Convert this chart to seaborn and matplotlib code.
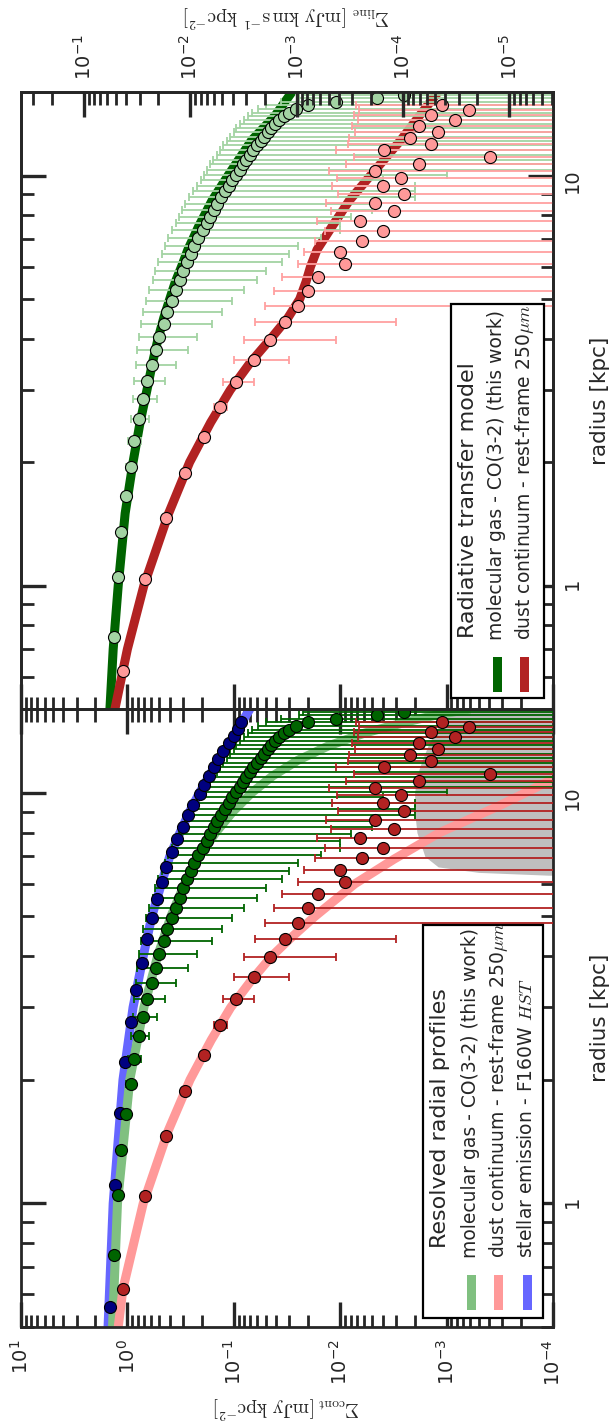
import matplotlib
matplotlib.use("Agg")
import matplotlib.pyplot as plt
from matplotlib import ticker
from matplotlib.patches import Rectangle
import seaborn as sns

# ---------------- data (radius in kpc, surface brightness in mJy kpc^-2) -------------
# molecular gas CO(3-2) profile
co_radius = [0.75, 1.05, 1.35, 1.65, 1.95, 2.25, 2.55, 2.85, 3.15, 3.45,
             3.75, 4.05, 4.35, 4.65, 4.95, 5.25, 5.55, 5.85, 6.15, 6.45,
             6.75, 7.05, 7.35, 7.65, 7.95, 8.25, 8.55, 8.85, 9.15, 9.45,
             9.75, 10.05, 10.35, 10.65, 10.95, 11.25, 11.55, 11.85, 12.15, 12.45,
             12.75, 13.05, 13.35, 13.65, 13.95, 14.25, 14.55, 14.85, 15.15, 15.45,
             15.75]
co_flux = [1.34, 1.22, 1.14, 1.03, 0.93, 0.86, 0.78, 0.71, 0.65, 0.59,
           0.54, 0.50, 0.45, 0.42, 0.385, 0.35, 0.32, 0.30, 0.275, 0.25,
           0.235, 0.215, 0.195, 0.18, 0.168, 0.155, 0.145, 0.132, 0.122, 0.112,
           0.104, 0.096, 0.088, 0.082, 0.076, 0.070, 0.066, 0.061, 0.056, 0.052,
           0.048, 0.045, 0.041, 0.038, 0.034, 0.030, 0.026, 0.020, 0.011, 0.0045,
           0.0025]
co_err = [0.03, 0.04, 0.05, 0.07, 0.09, 0.12, 0.15, 0.18, 0.21, 0.24,
          0.27, 0.28, 0.29, 0.29, 0.28, 0.27, 0.26, 0.25, 0.24, 0.22,
          0.21, 0.20, 0.185, 0.17, 0.16, 0.15, 0.14, 0.13, 0.12, 0.11,
          0.10, 0.095, 0.09, 0.085, 0.08, 0.075, 0.07, 0.065, 0.06, 0.056,
          0.052, 0.05, 0.046, 0.043, 0.04, 0.037, 0.033, 0.03, 0.025, 0.02,
          0.02]

# dust continuum (rest-frame 250 micron) profile
dust_radius = [0.62, 1.04, 1.46, 1.88, 2.30, 2.72, 3.14, 3.56, 3.98, 4.40,
               4.82, 5.24, 5.66, 6.08, 6.50, 6.92, 7.34, 7.76, 8.18, 8.60,
               9.02, 9.44, 9.86, 10.28, 10.70, 11.12, 11.54, 11.96, 12.38, 12.80,
               13.22, 13.64, 14.06, 14.48, 14.90]
dust_flux = [1.10, 0.68, 0.43, 0.29, 0.19, 0.135, 0.095, 0.065, 0.046, 0.033,
             0.025, 0.020, 0.016, 0.0090, 0.0101, 0.0063, 0.0040, 0.0065, 0.0031, 0.0047,
             0.0025, 0.0040, 0.0027, 0.0047, 0.0018, 0.00039, 0.0039, 0.0014, 0.0022, 0.0012,
             0.0018, 0.00083, 0.0014, 0.00062, 0.0011]
dust_err = [0.02, 0.015, 0.012, 0.012, 0.015, 0.02, 0.03, 0.035, 0.035, 0.03,
            0.026, 0.022, 0.019, 0.016, 0.012, 0.011, 0.010, 0.010, 0.009, 0.009,
            0.008, 0.008, 0.008, 0.008, 0.007, 0.007, 0.007, 0.007, 0.006, 0.006,
            0.006, 0.006, 0.006, 0.006, 0.006]

# stellar emission (F160W HST) profile
star_radius = [0.56, 1.11, 1.66, 2.21, 2.76, 3.31, 3.86, 4.41, 4.96, 5.51,
               6.06, 6.61, 7.16, 7.71, 8.26, 8.81, 9.36, 9.91, 10.46, 11.01,
               11.56, 12.11, 12.66, 13.21, 13.76, 14.31, 14.86]
star_flux = [1.45, 1.32, 1.18, 1.05, 0.93, 0.83, 0.73, 0.66, 0.59, 0.53,
             0.47, 0.43, 0.38, 0.34, 0.30, 0.27, 0.24, 0.21, 0.19, 0.17,
             0.155, 0.14, 0.125, 0.11, 0.10, 0.092, 0.085]

# fitted profiles
fit_radius = [0.5, 1.0, 2.0, 3.0, 4.0, 5.0, 6.0, 7.0, 8.0, 9.0, 10.0,
              11.0, 12.0, 13.0, 14.0, 15.0, 15.5, 16.0]
fit_co = [1.38, 1.24, 0.95, 0.70, 0.52, 0.39, 0.29, 0.21, 0.148, 0.102, 0.068,
          0.043, 0.025, 0.013, 0.0058, 0.0021, 0.0012, 0.0006]
fit_star = [1.52, 1.36, 1.10, 0.885, 0.71, 0.59, 0.48, 0.40, 0.32, 0.26, 0.21,
            0.17, 0.14, 0.114, 0.095, 0.082, 0.076, 0.0705]
fit_dust_radius = [0.5, 0.62, 1.0, 1.5, 2.0, 2.5, 3.0, 3.5, 4.0, 4.4, 5.0,
                   6.0, 6.9, 8.0, 9.3, 10.8]
fit_dust = [1.22, 1.10, 0.71, 0.415, 0.258, 0.163, 0.107, 0.068, 0.044, 0.030, 0.0173,
            0.0073, 0.0031, 0.00116, 0.00032, 0.0001]

# radiative transfer model
rt_radius = [0.5, 0.7, 1.0, 1.5, 2.0, 2.5, 3.0, 3.5, 4.0, 4.5, 5.0, 5.5,
             6.0, 6.6, 7.5, 8.7, 10.0, 12.2, 14.0, 16.0]
rt_co = [1.46, 1.36, 1.22, 1.05, 0.885, 0.76, 0.655, 0.58, 0.515, 0.455, 0.40, 0.355,
         0.31, 0.27, 0.215, 0.16, 0.1135, 0.068, 0.041, 0.0284]
rt_dust = [1.31, 1.0, 0.70, 0.41, 0.26, 0.165, 0.108, 0.070, 0.045, 0.031, 0.024, 0.021,
           0.019, 0.0165, 0.012, 0.0082, 0.0052, 0.0027, 0.0018, 0.0012]

# noise region of the dust map
noise_radius = [6.3, 6.4, 6.6, 7.0, 8.0, 9.0, 10.0, 11.0, 12.0, 13.0, 14.0, 15.0, 16.0]
noise_level = [1.1e-4, 5e-4, 1.2e-3, 1.6e-3, 1.9e-3, 2.0e-3, 2.0e-3, 1.9e-3, 1.7e-3,
               1.5e-3, 1.3e-3, 1.1e-3, 1.0e-3]

LINE_PER_CONT = 0.039          # Sigma_line / Sigma_cont axis scaling
cont_lim = (10.0, 1e-4)
radius_lim = (0.5, 16.0)

# ---------------- style ----------------
sns.set_theme(style="ticks")
plt.rcParams["font.family"] = ["DejaVu Sans"]
plt.rcParams["mathtext.fontset"] = "dejavusans"
plt.rcParams["axes.linewidth"] = 2.0
plt.rcParams["axes.unicode_minus"] = False

W, H = 611, 1422
fig = plt.figure(figsize=(W / 100, H / 100), dpi=100)


def fx(px):
    return px / W


def fy(py):
    return 1 - py / H


ax_b = fig.add_axes([fx(21), fy(1327), 532 / W, (1327 - 709) / H])
ax_t = fig.add_axes([fx(21), fy(709), 532 / W, (709 - 92) / H])


def style_axes(ax):
    ax.set_xscale("log")
    ax.set_yscale("log")
    ax.set_xlim(*cont_lim)
    ax.set_ylim(*radius_lim)
    ax.xaxis.set_major_locator(ticker.LogLocator(base=10, numticks=20))
    ax.xaxis.set_minor_locator(ticker.LogLocator(base=10, subs=range(2, 10), numticks=40))
    ax.xaxis.set_minor_formatter(ticker.NullFormatter())
    ax.yaxis.set_major_locator(ticker.FixedLocator([1, 10]))
    ax.yaxis.set_major_formatter(ticker.StrMethodFormatter("{x:g}"))
    ax.yaxis.set_minor_locator(ticker.LogLocator(base=10, subs=range(2, 10), numticks=40))
    ax.yaxis.set_minor_formatter(ticker.NullFormatter())
    ax.tick_params(which="major", direction="in", length=18, width=2.4, labelsize=14)
    ax.tick_params(which="minor", direction="in", length=9, width=2.0)
    ax.tick_params(axis="y", which="both", left=True, right=True,
                   labelleft=False, labelright=True, labelrotation=90, pad=7)
    ax.set_ylabel("radius [kpc]", rotation=90, fontsize=15.5, labelpad=6)
    ax.yaxis.set_label_position("right")
    ax.grid(False)


style_axes(ax_b)
style_axes(ax_t)

# bottom panel: Sigma_cont axis labelled at the bottom
ax_b.tick_params(axis="x", which="both", top=True, bottom=True,
                 labeltop=False, labelbottom=True, labelrotation=90, pad=9)
ax_b.set_xlabel(r"$\Sigma_{\rm cont}\,[\rm mJy\ kpc^{-2}]$", rotation=180,
                fontsize=14, math_fontfamily="cm", labelpad=6)

# top panel: Sigma_cont ticks below, Sigma_line axis on top
ax_t.tick_params(axis="x", which="both", top=False, bottom=True,
                 labeltop=False, labelbottom=False)
ax_t2 = ax_t.twiny()
ax_t2.set_xscale("log")
ax_t2.set_xlim(cont_lim[0] * LINE_PER_CONT, cont_lim[1] * LINE_PER_CONT)
ax_t2.xaxis.set_major_locator(ticker.LogLocator(base=10, numticks=20))
ax_t2.xaxis.set_minor_locator(ticker.LogLocator(base=10, subs=range(2, 10), numticks=40))
ax_t2.xaxis.set_minor_formatter(ticker.NullFormatter())
ax_t2.tick_params(which="major", direction="in", length=18, width=2.4, labelsize=14)
ax_t2.tick_params(which="minor", direction="in", length=9, width=2.0)
ax_t2.tick_params(axis="x", which="both", top=True, bottom=False,
                  labeltop=True, labelbottom=False, labelrotation=90, pad=9)
ax_t2.set_xlabel(r"$\Sigma_{\rm line}\ [\rm mJy\ km\,s^{-1}\ kpc^{-2}]$", rotation=180,
                 fontsize=14, math_fontfamily="cm", labelpad=8)
ax_t2.xaxis.set_label_position("top")
ax_t2.tick_params(axis="y", which="both", left=False, right=False,
                  labelleft=False, labelright=False)
ax_t2.grid(False)

# ---------------- bottom panel: resolved radial profiles ----------------
ax_b.fill_betweenx(noise_radius, noise_level, [1e-5] * len(noise_level),
                   color="#bfbfbf", lw=0, zorder=1)
lw_fit = 6.5
sns.lineplot(x=fit_star, y=fit_radius, orient="y", ax=ax_b, color="#6666ff",
             lw=lw_fit, zorder=2, solid_capstyle="butt")
sns.lineplot(x=fit_co, y=fit_radius, orient="y", ax=ax_b, color="#80c080",
             lw=lw_fit, zorder=2, solid_capstyle="butt")
sns.lineplot(x=fit_dust, y=fit_dust_radius, orient="y", ax=ax_b, color="#ff9999",
             lw=lw_fit, zorder=2, solid_capstyle="butt")

ax_b.errorbar(co_flux, co_radius, xerr=co_err, fmt="none", ecolor="#006400",
              elinewidth=1.3, capsize=3, capthick=1.3, zorder=3)
ax_b.errorbar(dust_flux, dust_radius, xerr=dust_err, fmt="none", ecolor="#b22222",
              elinewidth=1.3, capsize=3, capthick=1.3, zorder=3)
pt_kw = dict(s=75, edgecolor="black", linewidth=0.8, zorder=4, legend=False)
sns.scatterplot(x=star_flux, y=star_radius, ax=ax_b, color="#000080", **pt_kw)
sns.scatterplot(x=co_flux, y=co_radius, ax=ax_b, color="#006400", **pt_kw)
sns.scatterplot(x=dust_flux, y=dust_radius, ax=ax_b, color="#b22222", **pt_kw)

# ---------------- top panel: radiative transfer model ----------------
sns.lineplot(x=rt_co, y=rt_radius, orient="y", ax=ax_t, color="#006400",
             lw=lw_fit, zorder=2, solid_capstyle="butt")
sns.lineplot(x=rt_dust, y=rt_radius, orient="y", ax=ax_t, color="#b22222",
             lw=lw_fit, zorder=2, solid_capstyle="butt")
ax_t.errorbar(co_flux, co_radius, xerr=co_err, fmt="none", ecolor="#a3d3a3",
              elinewidth=1.3, capsize=3, capthick=1.3, zorder=3)
ax_t.errorbar(dust_flux, dust_radius, xerr=dust_err, fmt="none", ecolor="#ffa0a0",
              elinewidth=1.3, capsize=3, capthick=1.3, zorder=3)
sns.scatterplot(x=co_flux, y=co_radius, ax=ax_t, color="#a3d3a3", **pt_kw)
sns.scatterplot(x=dust_flux, y=dust_radius, ax=ax_t, color="#ff9999", **pt_kw)

for ax in (ax_b, ax_t):
    ax.set_xlim(*cont_lim)
    ax.set_ylim(*radius_lim)
ax_t2.set_xlim(cont_lim[0] * LINE_PER_CONT, cont_lim[1] * LINE_PER_CONT)


# ---------------- legends (drawn rotated, reading upwards) ----------------
def rotated_legend(box, title, title_x, title_y, entries, text_y, handle_y):
    x0, x1, y0, y1 = box
    fig.add_artist(Rectangle((fx(x0), fy(y1)), fx(x1) - fx(x0), fy(y0) - fy(y1),
                             transform=fig.transFigure, facecolor="white",
                             edgecolor="black", lw=1.6, zorder=10))
    fig.text(fx(title_x), fy(title_y), title, rotation=90, ha="center", va="bottom",
             fontsize=16, zorder=11)
    for label, color, x in entries:
        fig.text(fx(x), fy(text_y), label, rotation=90, ha="center", va="bottom",
                 fontsize=13.5, math_fontfamily="cm", zorder=11)
        fig.add_artist(Rectangle((fx(x - 4.5), fy(handle_y[1])), 9 / W,
                                 (handle_y[1] - handle_y[0]) / H,
                                 transform=fig.transFigure, facecolor=color,
                                 edgecolor="none", zorder=11))


rotated_legend((423, 543, 925, 1318), "Resolved radial profiles", 440, 1248,
               [("molecular gas - CO(3-2) (this work)", "#80c080", 471),
                (r"dust continuum - rest-frame 250$\mu m$", "#ff9999", 498),
                (r"stellar emission - F160W $HST$", "#6666ff", 527)],
               1258, (1275, 1310))
rotated_legend((451, 544, 304, 698), "Radiative transfer model", 468, 638,
               [("molecular gas - CO(3-2) (this work)", "#006400", 497),
                (r"dust continuum - rest-frame 250$\mu m$", "#b22222", 524)],
               640, (657, 692))

fig.savefig("out.png", dpi=100)
